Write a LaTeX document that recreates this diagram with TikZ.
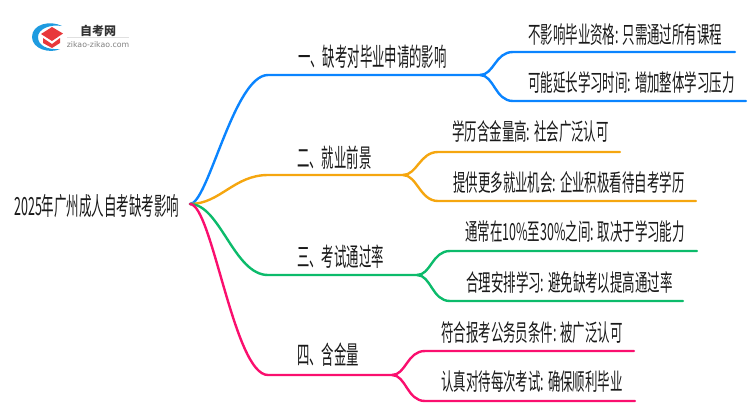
\documentclass[tikz,border=0pt]{standalone}
\usepackage{fontspec}
\setmainfont[FakeStretch=0.53]{Noto Sans CJK SC}
\newfontfamily\topicfont[FakeStretch=0.485]{Noto Sans CJK SC}
\newfontfamily\rootfont[FakeStretch=0.5]{Noto Sans CJK SC}
\newfontfamily\logofont{DejaVu Sans}
\newfontfamily\logocjk{Noto Sans CJK SC}
\usetikzlibrary{positioning}
\definecolor{blueline}{HTML}{0A84FF}
\definecolor{orangeline}{HTML}{F5A60F}
\definecolor{greenline}{HTML}{0CBB6B}
\definecolor{pinkline}{HTML}{FA0F6E}
\definecolor{logored}{HTML}{E8383B}
\definecolor{logoblue}{HTML}{1E9BE0}
\tikzset{
    rootnode/.style={anchor=west, inner sep=0pt, text=black!90, font=\rootfont\fontsize{25pt}{26pt}\selectfont},
    topicnode/.style={anchor=west, inner sep=0pt, text=black!90, font=\topicfont\fontsize{25.5pt}{26pt}\selectfont},
    leafnode/.style={anchor=west, inner sep=0pt, text=black!90, font=\fontsize{23.5pt}{24pt}\selectfont},
    branch/.style={line width=2.4pt, line cap=round}
}

\begin{document}
\begin{tikzpicture}[x=1pt, y=-1pt]
    \useasboundingbox (0,0) rectangle (750,410);

    % Logo
    \fill[logoblue] (62,26) .. controls (50,20) and (32,24) .. (32,37)
        .. controls (32,49) and (50,54) .. (60,49)
        .. controls (48,50) and (38,46) .. (38,37)
        .. controls (38,29) and (50,24) .. (62,26) -- cycle;
    \fill[logored] (52,27) -- (63,33.5) -- (52,41) -- (41,34) -- cycle;
    \fill[logored] (43,38) -- (52,44) -- (60,38) -- (60,43) -- (52,48) -- (43,43) -- cycle;
    \node[inner sep=0pt, text=black!80, font=\logocjk\fontsize{12pt}{13pt}\bfseries\selectfont] (logoname) at (98,31) {自考网};
    \node[inner sep=0pt, text=black!50, font=\logofont\fontsize{7.8pt}{8pt}\selectfont] (logourl) at (98,45) {zikao-zikao.com};
    \draw[black!12, line width=0.6pt] (logoname.south -| logourl.west) -- (logoname.south -| logourl.east);

    % Text
    \node[rootnode] (root) at (14,206) {2025年广州成人自考缺考影响};
    \node[topicnode] (topica) at (298,57) {一、缺考对毕业申请的影响};
    \node[topicnode] (topicb) at (297,158) {二、就业前景};
    \node[topicnode] (topicc) at (297,257) {三、考试通过率};
    \node[topicnode] (topicd) at (297,355) {四、含金量};
    \node[leafnode] (leafaa) at (528,35) {不影响毕业资格: 只需通过所有课程};
    \node[leafnode] (leafab) at (528,83) {可能延长学习时间: 增加整体学习压力};
    \node[leafnode] (leafba) at (452,132) {学历含金量高: 社会广泛认可};
    \node[leafnode] (leafbb) at (453,182) {提供更多就业机会: 企业积极看待自考学历};
    \node[leafnode] (leafca) at (465,232) {通常在10\%至30\%之间: 取决于学习能力};
    \node[leafnode] (leafcb) at (466,283) {合理安排学习: 避免缺考以提高通过率};
    \node[leafnode] (leafda) at (441,333) {符合报考公务员条件: 被广泛认可};
    \node[leafnode] (leafdb) at (441,382) {认真对待每次考试: 确保顺利毕业};

    % Junctions
    \coordinate (hub) at (190,204);
    \coordinate (abend) at (268,75);
    \coordinate (afork) at (480,75);
    \coordinate (aastart) at (513,52);
    \coordinate (aaend) at (735,52);
    \coordinate (abstart) at (513,101);
    \coordinate (abfin) at (746,101);
    \coordinate (bbend) at (268,175);
    \coordinate (bfork) at (403,175);
    \coordinate (bastart) at (438,152);
    \coordinate (baend) at (620,152);
    \coordinate (bbstart) at (438,201);
    \coordinate (bbfin) at (696,201);
    \coordinate (cbend) at (268,275);
    \coordinate (cfork) at (417,275);
    \coordinate (castart) at (450,251);
    \coordinate (caend) at (697,251);
    \coordinate (cbstart) at (450,301);
    \coordinate (cbfin) at (683,301);
    \coordinate (dbend) at (268,375);
    \coordinate (dfork) at (392,375);
    \coordinate (dastart) at (425,351);
    \coordinate (daend) at (634,351);
    \coordinate (dbstart) at (425,401);
    \coordinate (dbfin) at (635,401);

    % Blue branch
    \draw[branch, blueline] (hub) .. controls +(18,0) and +(-34,0) .. (abend) -- (afork);
    \draw[branch, blueline] (afork) .. controls +(14,0) and +(-18,0) .. (aastart) -- (aaend);
    \draw[branch, blueline] (afork) .. controls +(14,0) and +(-18,0) .. (abstart) -- (abfin);

    % Orange branch
    \draw[branch, orangeline] (hub) .. controls +(30,0) and +(-34,0) .. (bbend) -- (bfork);
    \draw[branch, orangeline] (bfork) .. controls +(14,0) and +(-18,0) .. (bastart) -- (baend);
    \draw[branch, orangeline] (bfork) .. controls +(14,0) and +(-18,0) .. (bbstart) -- (bbfin);

    % Green branch
    \draw[branch, greenline] (hub) .. controls +(30,0) and +(-34,0) .. (cbend) -- (cfork);
    \draw[branch, greenline] (cfork) .. controls +(14,0) and +(-18,0) .. (castart) -- (caend);
    \draw[branch, greenline] (cfork) .. controls +(14,0) and +(-18,0) .. (cbstart) -- (cbfin);

    % Pink branch
    \draw[branch, pinkline] (hub) .. controls +(22,0) and +(-34,0) .. (dbend) -- (dfork);
    \draw[branch, pinkline] (dfork) .. controls +(14,0) and +(-18,0) .. (dastart) -- (daend);
    \draw[branch, pinkline] (dfork) .. controls +(14,0) and +(-18,0) .. (dbstart) -- (dbfin);
\end{tikzpicture}
\end{document}
